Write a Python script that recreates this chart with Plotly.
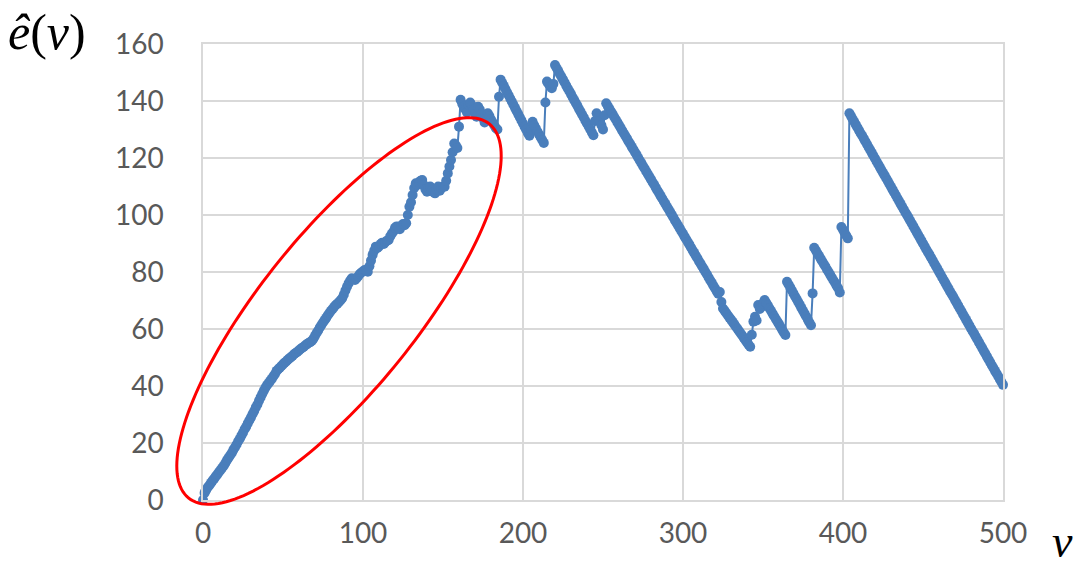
import math
import plotly.graph_objects as go

# ---- data ----
v_values = list(range(0, 501))

e_0_99 = [
    0, 2.5, 3.5, 4.5, 5.2, 6, 6.8, 7.5, 8.3, 9,
    9.8, 10.5, 11.3, 12, 13, 14, 14.8, 15.7, 16.5, 17.6,
    18.5, 19.5, 20.6, 21.5, 22.6, 23.6, 24.8, 25.7, 26.9, 28,
    29, 30.2, 31.2, 32.5, 33.5, 34.8, 36, 37.2, 38.3, 39.4,
    40.3, 41, 41.8, 42.5, 43.4, 44.2, 45.3, 45.9, 46.4, 47,
    47.6, 48.2, 48.6, 49.2, 49.7, 50.1, 50.6, 51.2, 51.6, 52,
    52.5, 53, 53.4, 53.8, 54.3, 54.7, 55.1, 55.4, 55.8, 56.6,
    57.6, 58.6, 59.5, 60.5, 61.4, 62.3, 63.1, 63.9, 64.8, 65.6,
    66.4, 67, 67.8, 68.4, 68.9, 69.5, 70.1, 70.8, 72, 73.5,
    74.8, 76, 77, 77.8, 77.5, 77.2, 77.8, 78.5, 79.3, 79.8,
]
e_100_199 = [
    80.2, 80.7, 80.4, 80.1, 82, 84, 86, 87.5, 88.9, 88.4,
    89, 89.8, 90.3, 89.8, 90.5, 91, 91.2, 92.5, 93.4, 94.2,
    95.5, 96, 95.9, 95, 96.2, 96.8, 96.4, 97.1, 100, 102.9,
    104.5, 107, 109.5, 111.1, 110.5, 111.5, 112, 112.3, 110.5, 109,
    108.2, 109.5, 110, 108.5, 108, 107.6, 109, 110, 108.5, 109.5,
    110, 109.9, 112, 114.6, 117, 119.3, 122, 125.1, 124.5, 123.5,
    131, 140.4, 139, 138, 137, 136, 138.5, 139.5, 138.5, 137,
    135.7, 134.5, 138, 137, 135.5, 134, 132.5, 134, 135.7, 134.7,
    133.5, 132.5, 131.5, 130.5, 130, 141.5, 147.5, 146.4, 145.3, 144.2,
    143.1, 142, 140.9, 139.8, 138.7, 137.6, 136.5, 135.4, 134.3, 133.2,
]
e_200_299 = [
    132.1, 131, 129.9, 128.8, 127.8, 130, 132.7, 131.5, 130.4, 129.3,
    128.3, 127.3, 126.3, 125.3, 139.5, 146.8, 146, 145.2, 144.5, 146,
    152.6, 151.6, 150.6, 149.5, 148.5, 147.5, 146.5, 145.4, 144.4, 143.4,
    142.4, 141.3, 140.3, 139.3, 138.3, 137.2, 136.2, 135.2, 134.2, 133.1,
    132.1, 131.1, 130.1, 129, 128, 133, 135.7, 134.5, 133, 131.5,
    130, 135, 139.2, 138.2, 137.3, 136.3, 135.4, 134.4, 133.5, 132.5,
    131.6, 130.6, 129.6, 128.7, 127.7, 126.8, 125.8, 124.9, 123.9, 123,
    122, 121.1, 120.1, 119.1, 118.2, 117.2, 116.3, 115.3, 114.4, 113.4,
    112.5, 111.5, 110.6, 109.6, 108.6, 107.7, 106.7, 105.8, 104.8, 103.9,
    102.9, 102, 101, 100.1, 99.1, 98.1, 97.2, 96.2, 95.3, 94.3,
]
e_300_399 = [
    93.4, 92.4, 91.5, 90.5, 89.6, 88.6, 87.6, 86.7, 85.7, 84.8,
    83.8, 82.9, 81.9, 81, 80, 79.1, 78.1, 77.1, 76.2, 75.2,
    74.3, 73.3, 72.4, 73, 69.5, 67.2, 66.4, 65.6, 64.8, 64,
    63.3, 62.5, 61.7, 60.9, 60.1, 59.3, 58.5, 57.7, 56.9, 56.1,
    55.3, 54.5, 53.8, 58, 62.6, 64.3, 63, 68.4, 67, 67.8,
    69, 70.2, 69.2, 68.3, 67.3, 66.4, 65.4, 64.5, 63.5, 62.6,
    61.7, 60.7, 59.7, 58.8, 57.9, 76.6, 75.6, 74.6, 73.6, 72.5,
    71.5, 70.5, 69.5, 68.5, 67.4, 66.4, 65.4, 64.4, 63.3, 62.3,
    61.3, 72.5, 88.5, 87.6, 86.6, 85.7, 84.7, 83.8, 82.8, 81.9,
    80.9, 80, 79, 78.1, 77.1, 76.2, 75.2, 74.3, 72.8, 95.8,
]
e_400_500 = [
    94.8, 93.8, 92.8, 91.8, 135.7, 134.7, 133.7, 132.7, 131.7, 130.7,
    129.7, 128.7, 127.8, 126.8, 125.8, 124.8, 123.8, 122.8, 121.8, 120.8,
    119.8, 118.8, 117.8, 116.8, 115.8, 114.8, 113.9, 112.9, 111.9, 110.9,
    109.9, 108.9, 107.9, 106.9, 105.9, 104.9, 103.9, 102.9, 101.9, 100.9,
    100, 99, 98, 97, 96, 95, 94, 93, 92, 91,
    90, 89, 88, 87, 86.1, 85.1, 84.1, 83.1, 82.1, 81.1,
    80.1, 79.1, 78.1, 77.1, 76.1, 75.1, 74.1, 73.1, 72.2, 71.2,
    70.2, 69.2, 68.2, 67.2, 66.2, 65.2, 64.2, 63.2, 62.2, 61.2,
    60.2, 59.2, 58.3, 57.3, 56.3, 55.3, 54.3, 53.3, 52.3, 51.3,
    50.3, 49.3, 48.3, 47.3, 46.3, 45.3, 44.4, 43.4, 42.4, 41.4,
    40.4,
]
e_values = e_0_99 + e_100_199 + e_200_299 + e_300_399 + e_400_500

x_ticks = [0, 100, 200, 300, 400, 500]
y_ticks = [0, 20, 40, 60, 80, 100, 120, 140, 160]

# ---- layout constants ----
W, H = 1090, 569
ML, MR, MT, MB = 203, 87, 44, 69
PW, PH = W - ML - MR, H - MT - MB
XMAX, YMAX = 500, 160

BLUE = "#4a7ebb"
GRID = "#d9d9d9"
TICK = "#595959"

fig = go.Figure()
fig.add_trace(go.Scatter(
    x=v_values, y=e_values, mode="lines+markers",
    line=dict(color=BLUE, width=2),
    marker=dict(color=BLUE, size=10, line=dict(width=0)),
    cliponaxis=False, showlegend=False, hoverinfo="skip",
))

# red ellipse annotation (decoration), defined in pixel space -> paper coords
cx, cy, a, b, ang = 339, 311, 240, 78, math.radians(51.2)
pts = []
for i in range(181):
    t = 2 * math.pi * i / 180
    px = cx + a * math.cos(t) * math.cos(ang) + b * math.sin(t) * math.sin(ang)
    py = cy - a * math.cos(t) * math.sin(ang) + b * math.sin(t) * math.cos(ang)
    dx = (px - ML) / PW
    dy = (MT + PH - py) / PH
    pts.append(f"{dx:.5f},{dy:.5f}")
path = "M" + " L".join(pts) + " Z"
fig.add_shape(type="path", path=path, xref="paper", yref="paper",
              line=dict(color="#ff0000", width=3), layer="above")

fig.update_layout(
    width=W, height=H,
    margin=dict(l=ML, r=MR, t=MT, b=MB, pad=0),
    paper_bgcolor="white", plot_bgcolor="white",
    font=dict(family="Lato, 'Open Sans', sans-serif", color=TICK, size=28),
    xaxis=dict(range=[0, XMAX], tickvals=x_ticks, ticktext=[str(t) for t in x_ticks],
               showgrid=True, gridcolor=GRID, gridwidth=1.5, zeroline=False,
               showline=True, mirror=True, linecolor=GRID, linewidth=1.5,
               ticks="", ticklabelstandoff=8, tickfont=dict(size=28, color=TICK)),
    yaxis=dict(range=[0, YMAX], tickvals=y_ticks, ticktext=[str(t) for t in y_ticks],
               showgrid=True, gridcolor=GRID, gridwidth=1.5, zeroline=False,
               showline=True, mirror=True, linecolor=GRID, linewidth=1.5,
               ticks="", ticklabelstandoff=32, tickfont=dict(size=28, color=TICK)),
    annotations=[
        dict(text="<i>ê</i>(<i>v</i>)", xref="paper", yref="paper",
             x=(47 - ML) / PW, y=(MT + PH - 32) / PH, xanchor="center", yanchor="middle",
             showarrow=False, font=dict(family="Liberation Serif", size=50, color="black")),
        dict(text="<i>v</i>", xref="paper", yref="paper",
             x=(1062 - ML) / PW, y=(MT + PH - 541) / PH, xanchor="center", yanchor="middle",
             showarrow=False, font=dict(family="Liberation Serif", size=46, color="black")),
    ],
)

fig.write_html("out.html")
